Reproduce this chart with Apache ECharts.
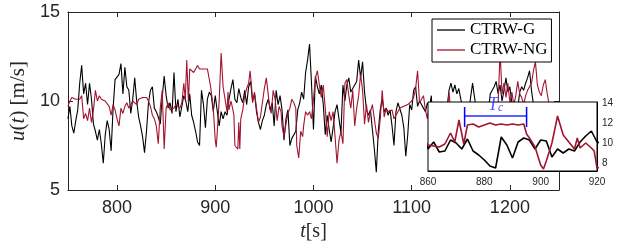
<!DOCTYPE html>
<html><head><meta charset="utf-8">
<script src="https://cdn.jsdelivr.net/npm/echarts@6/dist/echarts.min.js"></script>
<style>html,body{margin:0;padding:0;background:#fff}#c{width:619px;height:247px}</style>
</head><body><div id="c"></div>
<script>
// ---- tick labels ----
const xTicksMain = [800, 900, 1000, 1100, 1200];
const xTicksInset = [860, 880, 900, 920];
const yTicksInset = [8, 10, 12, 14];
const seriesNames = ['CTRW-G', 'CTRW-NG'];

// ---- CTRW-G (black) : time [s], speed [m/s] ----
const tG = [750,752,754,756,758,760,762,764,766,768,770,772,774,776,778,780,782,784,786,788,790,792,794,796,798,
800,802,804,806,808,810,812,814,816,818,820,822,824,826,828,830,832,834,836,838,840,842,844,846,848,
850,852,854,856,858,860,862,864,866,868,870,872,874,876,878,880,882,884,886,888,890,892,894,896,898,
900,902,904,906,908,910,912,914,916,918,920,922,924,926,928,930,932,934,936,938,940,942,944,946,948,
950,952,954,956,958,960,962,964,966,968,970,972,974,976,978,980,982,984,986,988,990,992,994,996,998,
1000,1002,1004,1006,1008,1010,1012,1014,1016,1018,1020,1022,1024,1026,1028,1030,1032,1034,1036,1038,1040,1042,1044,1046,1048,
1050,1052,1054,1056,1058,1060,1062,1064,1066,1068,1070,1072,1074,1076,1078,1080,1082,1084,1086,1088,1090,1092,1094,1096,1098,
1100,1102,1104,1106,1108,1110,1112,1114,1116,1118,1120,1122,1124,1126,1128,1130,1132,1134,1136,1138,1140,1142,1144,1146,1148,
1150,1152,1154,1156,1158,1160,1162,1164,1166,1168,1170,1172,1174,1176,1178,1180,1182,1184,1186,1188,1190,1192,1194,1196,1198,
1200,1202,1204,1206,1208,1210,1212,1214,1216,1218,1220,1222,1224,1226,1228,1230,1232,1234,1236,1238,1240,1242,1244,1246,1248,1250];
const uG = [9.0,9.7,8.6,8.2,8.9,9.5,11.0,12.0,10.4,11.0,9.8,11.0,10.1,8.7,8.3,7.8,8.4,7.6,6.5,8.1,8.9,8.4,7.2,9.6,11.2,
11.3,11.5,12.1,10.4,11.9,10.8,10.6,9.3,10.1,11.3,10.0,9.1,8.6,8.0,7.1,8.3,9.9,10.6,10.8,9.6,9.4,9.1,8.7,10.2,11.4,
10.3,9.6,9.9,9.3,11.6,9.4,10.1,9.1,9.2,10.3,10.0,9.4,10.4,9.2,8.8,8.3,7.7,7.5,10.6,9.8,8.5,10.1,10.5,10.3,9.4,
10.3,10.2,8.6,9.4,9.0,9.4,9.2,10.1,10.7,11.2,10.1,9.9,10.7,10.2,9.9,10.6,9.8,10.8,11.1,10.0,10.4,9.4,8.8,8.4,8.9,
9.2,9.8,10.1,9.5,9.9,8.6,10.6,9.8,10.3,9.5,7.8,9.0,9.5,7.5,7.9,8.0,8.3,9.5,9.9,10.5,10.1,11.6,12.3,13.2,11.0,
8.4,11.4,10.8,10.4,10.9,9.8,8.1,9.2,8.4,7.7,8.5,9.4,9.8,9.0,8.2,10.9,10.0,10.9,11.3,10.5,10.7,10.6,11.1,12.3,11.3,
12.2,10.5,9.5,9.2,9.5,8.4,7.3,6.0,8.3,9.5,10.1,9.4,9.6,9.2,9.5,8.6,7.5,9.4,9.9,10.0,9.2,8.5,6.9,8.1,9.8,
9.5,10.6,10.8,9.7,10.0,9.8,9.6,9.4,9.9,9.6,10.3,8.2,9.1,8.6,9.0,8.5,9.3,9.0,9.6,10.6,11.0,10.5,10.9,10.4,10.7,
10.1,9.6,9.2,9.8,9.3,10.2,11.0,10.2,9.5,9.0,9.4,8.8,9.2,9.6,9.4,10.4,10.6,10.8,11.1,10.4,10.9,10.0,10.6,11.3,10.5,
10.8,9.9,9.5,9.8,9.6,10.5,10.8,10.6,11.0,11.3,11.7,10.6,9.8,9.4,9.0,9.5,9.3,9.7,9.2,9.5,9.1,9.6,9.3,9.8,9.4,9.6];

// ---- CTRW-NG (red) : time [s], speed [m/s] ----
const tNG = [750,752,754,756,758,760,762,764,766,768,770,772,774,776,778,780,782,784,786,788,790,792,794,796,798,
800,802,804,806,808,810,812,814,816,818,820,822,824,826,828,830,832,834,836,838,840,842,844,846,848,
850,852,854,856,858,860,862,864,866,868,869.5,871,872.7,874,876,878,880,882,884,886,888,890,892,894,895,896,898,
900,901,902,904,906,908,910,912,913,914,916,918,919,920,922,923,924,925,926,928,930,932,934,935.5,937,938,940,942,944,946,948,
950,952,954,955.5,957,959,961,963,965,967,968,970,972,974,976,978,980,982,983,985,987,989,990,992,994,996,998,
1000,1002,1004,1006,1008,1010,1012,1014,1016,1018,1020,1022,1024,1026,1028,1030,1032,1034,1036,1038,1040,1042,1044,1046,1048,
1050,1052,1054,1056,1058,1060,1062,1064,1066,1068,1070,1072,1074,1076,1078,1080,1082,1084,1086,1088,1090,1092,1094,1096,1098,
1100,1102,1104,1106,1108,1110,1112,1114,1116,1118,1120,1122,1124,1126,1128,1130,1132,1134,1136,1138,1140,1142,1144,1146,1148,
1150,1152,1154,1156,1158,1160,1162,1164,1166,1168,1170,1172,1174,1176,1178,1180,1182,1184,1186,1188,1190,1192,1194,1196,1198,
1200,1202,1204,1206,1208,1210,1212,1214,1216,1218,1220,1222,1224,1226,1228,1230,1232,1234,1236,1238,1240,1242,1244,1246,1248,1250];
const uNG = [9.7,10.0,10.2,10.3,10.1,10.2,10.1,10.3,9.0,9.3,8.9,9.6,8.8,9.5,10.6,10.0,10.3,10.1,10.2,10.0,9.9,9.7,9.2,9.8,9.5,
9.0,8.6,9.6,9.3,9.7,9.9,9.6,9.8,10.0,9.9,9.8,10.1,10.0,10.2,10.3,10.2,10.0,9.7,9.2,9.0,8.6,7.6,9.6,10.6,7.3,
9.6,9.9,9.5,9.4,9.6,9.8,9.7,9.6,9.9,11.0,10.1,12.3,9.9,11.8,11.9,11.6,11.8,12.0,11.8,11.9,11.8,11.9,11.8,11.9,10.9,10.5,9.6,
7.8,7.4,8.2,10.0,12.7,10.8,10.1,9.4,10.5,9.5,10.0,9.5,9.2,7.5,7.6,7.3,8.8,7.3,9.0,9.5,10.3,10.7,11.0,11.7,10.8,9.9,10.5,9.6,8.8,9.1,9.0,
10.7,11.3,11.4,9.6,9.3,10.6,10.1,8.9,9.7,9.4,8.6,8.0,8.7,9.3,9.6,10.1,9.9,9.6,7.5,6.8,8.3,8.0,8.6,9.4,9.2,9.4,9.0,
10.1,11.3,11.7,10.9,10.2,10.9,9.6,8.0,9.4,8.9,9.4,8.0,6.5,7.8,8.3,7.6,11.0,11.2,10.3,9.6,10.6,8.6,9.6,10.3,11.5,
10.6,8.7,9.8,8.8,9.4,9.8,9.0,8.2,7.9,9.0,10.6,9.1,9.6,9.4,9.3,9.5,9.0,9.2,9.4,9.6,9.5,9.7,9.8,9.8,9.9,
10.0,10.2,10.7,11.7,9.9,10.1,10.3,9.5,9.0,9.9,8.0,7.6,8.4,8.0,8.6,8.2,8.9,8.5,9.2,10.5,9.3,8.8,9.0,8.6,9.2,
8.9,9.4,9.0,8.7,9.1,8.8,9.3,9.0,8.6,8.9,9.2,8.8,9.0,9.3,8.9,9.5,9.2,9.6,9.3,9.8,12.8,10.4,11.0,10.2,11.0,
9.9,10.5,9.8,10.3,11.1,10.4,10.2,9.8,10.3,10.6,10.8,11.0,11.7,12.2,10.9,10.5,10.3,10.9,11.2,10.4,9.8,9.5,9.2,9.6,9.3,9.1];

// ---- T_c annotation (inset) ----
const tcStart = 873, tcEnd = 895, tcLevel = 12.7, tcLow = 11.6, tcHigh = 13.6;

const zip = (t, u) => t.map((v, i) => [v, u[i]]);
const dataG = zip(tG, uG);
const dataNG = zip(tNG, uNG);

const serif = 'Liberation Serif';
const sans = 'Liberation Sans';
const axisCol = '#262626';
const redCol = '#A2142F';
const plain = v => String(v);

const chart = echarts.init(document.getElementById('c'), null, {renderer: 'canvas', width: 619, height: 247});
const option = {
  animation: false,
  backgroundColor: '#fff',
  grid: [
    {left: 58, top: 12, width: 501, height: 178, show: false},
    {left: 428, top: 102, width: 169, height: 69, show: true, backgroundColor: '#fff', borderColor: '#000', borderWidth: 1, z: 5}
  ],
  legend: {
    data: seriesNames, orient: 'vertical', left: 432, top: 19,
    icon: 'rect', itemWidth: 28, itemHeight: 1.3,
    padding: [1, 4, 2, 5], itemGap: 0,
    borderColor: '#000', borderWidth: 1, borderRadius: 0, backgroundColor: '#fff',
    textStyle: {fontFamily: serif, fontSize: 17, color: '#000', lineHeight: 20, height: 20}, z: 10, selectedMode: false
  },
  xAxis: [
    {gridIndex: 0, type: 'value', min: 750, max: 1250, position: 'bottom',
     axisLine: {show: true, onZero: false, lineStyle: {color: axisCol, width: 1}},
     axisTick: {show: true, inside: true, length: 5, customValues: xTicksMain, lineStyle: {color: axisCol}},
     axisLabel: {customValues: xTicksMain, formatter: plain, fontSize: 18, fontFamily: sans, color: axisCol, margin: 9},
     splitLine: {show: false},
     name: '{i|t}[s]', nameLocation: 'middle', nameGap: 21,
     nameTextStyle: {fontFamily: serif, fontSize: 20, color: axisCol,
       rich: {i: {fontStyle: 'italic', fontFamily: serif, fontSize: 20, color: axisCol}}}},
    {gridIndex: 0, type: 'value', min: 750, max: 1250, position: 'top',
     axisLine: {show: true, onZero: false, lineStyle: {color: axisCol, width: 1}},
     axisTick: {show: true, inside: true, length: 5, customValues: xTicksMain, lineStyle: {color: axisCol}},
     axisLabel: {show: false}, splitLine: {show: false}},
    {gridIndex: 1, type: 'value', min: 860, max: 920, interval: 20, position: 'bottom', z: 6,
     axisLine: {show: true, onZero: false, lineStyle: {color: '#000', width: 1}},
     axisTick: {show: false},
     axisLabel: {customValues: xTicksInset, formatter: plain, fontSize: 10, fontFamily: sans, color: axisCol, margin: 6},
     splitLine: {show: false}}
  ],
  yAxis: [
    {gridIndex: 0, type: 'value', min: 5, max: 15, interval: 5, position: 'left',
     axisLine: {show: true, onZero: false, lineStyle: {color: axisCol, width: 1}},
     axisTick: {show: true, inside: true, length: 5, lineStyle: {color: axisCol}},
     axisLabel: {formatter: plain, fontSize: 18, fontFamily: sans, color: axisCol, margin: 8},
     splitLine: {show: false},
     name: '{i|u}({i|t}) [m/s]', nameLocation: 'middle', nameGap: 29, nameRotate: 90,
     nameTextStyle: {fontFamily: serif, fontSize: 21, color: axisCol,
       rich: {i: {fontStyle: 'italic', fontFamily: serif, fontSize: 21, color: axisCol}}}},
    {gridIndex: 0, type: 'value', min: 5, max: 15, interval: 5, position: 'right',
     axisLine: {show: true, onZero: false, lineStyle: {color: axisCol, width: 1}},
     axisTick: {show: true, inside: true, length: 5, lineStyle: {color: axisCol}},
     axisLabel: {show: false}, splitLine: {show: false}},
    {gridIndex: 1, type: 'value', min: 7.2, max: 14.1, position: 'right', z: 6,
     axisLine: {show: true, onZero: false, lineStyle: {color: '#000', width: 1}},
     axisTick: {show: false},
     axisLabel: {customValues: yTicksInset, formatter: plain, fontSize: 10, fontFamily: sans, color: axisCol, margin: 5},
     splitLine: {show: false}}
  ],
  series: [
    {name: seriesNames[0], type: 'line', xAxisIndex: 0, yAxisIndex: 0, data: dataG, symbol: 'none',
     lineStyle: {color: '#000', width: 1.1}, itemStyle: {color: '#000'}, z: 2, silent: true, clip: true},
    {name: seriesNames[1], type: 'line', xAxisIndex: 0, yAxisIndex: 0, data: dataNG, symbol: 'none',
     lineStyle: {color: redCol, width: 1.1}, itemStyle: {color: redCol}, z: 2, silent: true, clip: true},
    {name: seriesNames[0], type: 'line', xAxisIndex: 2, yAxisIndex: 2, data: dataG, symbol: 'none',
     lineStyle: {color: '#000', width: 1.6}, itemStyle: {color: '#000'}, z: 7, silent: true, clip: true},
    {name: seriesNames[1], type: 'line', xAxisIndex: 2, yAxisIndex: 2, data: dataNG, symbol: 'none',
     lineStyle: {color: redCol, width: 1.6}, itemStyle: {color: redCol}, z: 7, silent: true, clip: true},
    {type: 'line', xAxisIndex: 2, yAxisIndex: 2, data: [[tcStart, tcLevel], [tcEnd, tcLevel]], symbol: 'none',
     lineStyle: {color: '#6060ff', width: 2}, z: 8, silent: true},
    {type: 'line', xAxisIndex: 2, yAxisIndex: 2, data: [[tcStart, tcLow], [tcStart, tcHigh]], symbol: 'none',
     lineStyle: {color: '#0000ff', width: 1.5}, z: 8, silent: true},
    {type: 'line', xAxisIndex: 2, yAxisIndex: 2, data: [[tcEnd, tcLow], [tcEnd, tcHigh]], symbol: 'none',
     lineStyle: {color: '#0000ff', width: 1.5}, z: 8, silent: true},
    {type: 'scatter', xAxisIndex: 2, yAxisIndex: 2, data: [[(tcStart + tcEnd) / 2, tcLevel]], symbolSize: 0, z: 9, silent: true,
     label: {show: true, position: 'top', distance: 2, formatter: '{i|T}{s|c}',
       rich: {i: {fontFamily: serif, fontStyle: 'italic', fontSize: 18, color: '#2a2aff', lineHeight: 18},
              s: {fontFamily: serif, fontStyle: 'italic', fontSize: 12, color: '#2a2aff', verticalAlign: 'bottom', lineHeight: 12}}}}
  ]
};
chart.setOption(option);
</script>
</body></html>
